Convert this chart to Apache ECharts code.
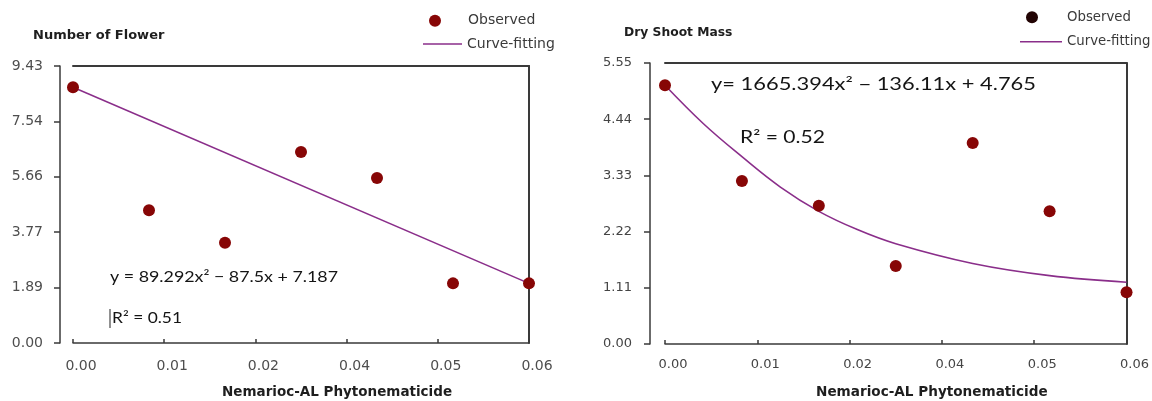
<!DOCTYPE html>
<html><head><meta charset="utf-8">
<script src="https://cdn.jsdelivr.net/npm/echarts@6/dist/echarts.min.js"></script>
<style>html,body{margin:0;padding:0;background:#fff}#c{width:1152px;height:401px}</style>
</head><body><div id="c"></div>
<script>
// ---- data ----
const doses = [0, 0.01, 0.02, 0.03, 0.04, 0.05, 0.06];
const flowerObserved = [8.71, 4.52, 3.41, 6.50, 5.62, 2.03, 2.03];
const flowerFitDoses = [0, 0.06];
const flowerFit = [8.71, 2.03];
const massObserved = [5.11, 3.22, 2.73, 1.54, 3.97, 2.62, 1.02];
const massFitDoses = [0, 0.005, 0.01, 0.015, 0.02, 0.025, 0.03, 0.04, 0.05, 0.06];
const massFit = [5.11, 4.35, 3.70, 3.10, 2.62, 2.26, 1.98, 1.59, 1.35, 1.22];
const xTickLabels = ['0.00', '0.01', '0.02', '0.04', '0.05', '0.06'];
const flowerYTickLabels = ['0.00', '1.89', '3.77', '5.66', '7.54', '9.43'];
const massYTickLabels = ['0.00', '1.11', '2.22', '3.33', '4.44', '5.55'];
const xMax = 0.06, xStep = 0.012;
const flowerYMax = 9.43, flowerYStep = 1.886;
const massYMax = 5.55, massYStep = 1.11;

// ---- helpers ----
const mctx = document.createElement('canvas').getContext('2d');
function fitScale(text, size, w) { mctx.font = size + 'px Lato'; return w / mctx.measureText(text).width; }
const pick = (arr) => (v, i) => (arr[i] !== undefined ? arr[i] : v.toFixed(2));
const AX = '#3a3a3a';

function xAxisBottom(gi, fs, margin, color) {
  return {
    gridIndex: gi, type: 'value', min: 0, max: xMax, interval: xStep,
    axisLine: { show: true, onZero: false, lineStyle: { color: AX, width: 1.5 } },
    axisTick: { show: true, inside: true, length: 4, lineStyle: { color: AX, width: 1.5 } },
    axisLabel: { margin: margin, fontFamily: 'DejaVu Sans', fontSize: fs, color: color, lineHeight: 14,
                 padding: [0, 0, 0, 16], formatter: pick(xTickLabels) },
    splitLine: { show: false }
  };
}
function xAxisTop(gi) {
  return { gridIndex: gi, type: 'value', min: 0, max: xMax, position: 'top',
    axisLine: { show: true, onZero: false, lineStyle: { color: AX, width: 2 } },
    axisTick: { show: false }, axisLabel: { show: false }, splitLine: { show: false } };
}
function yAxisLeft(gi, max, step, labels, offset, fs, margin, color) {
  return {
    gridIndex: gi, type: 'value', min: 0, max: max, interval: step, offset: offset,
    axisLine: { show: true, onZero: false, lineStyle: { color: AX, width: 1.5 } },
    axisTick: { show: true, length: 6, lineStyle: { color: AX, width: 1.5 } },
    axisLabel: { margin: margin, fontFamily: 'DejaVu Sans', fontSize: fs, color: color,
                 padding: [4, 0, 0, 0], formatter: pick(labels) },
    splitLine: { show: false }
  };
}
function yAxisRight(gi, max) {
  return { gridIndex: gi, type: 'value', min: 0, max: max, position: 'right',
    axisLine: { show: true, onZero: false, lineStyle: { color: AX, width: 2 } },
    axisTick: { show: false }, axisLabel: { show: false }, splitLine: { show: false } };
}
const titleFont = (fs) => ({ fontFamily: 'DejaVu Sans', fontWeight: 'bold', fontSize: fs, color: '#1e1e1e', lineHeight: 16 });
const PURPLE = '#8a2e8a';
const MARK = '#870606';

const eqL = 'y = 89.292x\u00B2 \u2212 87.5x + 7.187';
const r2L = 'R\u00B2 = 0.51';
const eqR = 'y= 1665.394x\u00B2 \u2212 136.11x + 4.765';
const r2R = 'R\u00B2 = 0.52';

const option = {
  backgroundColor: '#ffffff',
  animation: false,
  grid: [
    { left: 73, right: 623, top: 66, bottom: 58 },
    { left: 665, right: 24, top: 63, bottom: 57 }
  ],
  xAxis: [
    xAxisBottom(0, 14, 16, '#4e4e4e'),
    xAxisBottom(1, 13, 14, '#444'),
    xAxisTop(0), xAxisTop(1)
  ],
  yAxis: [
    yAxisLeft(0, flowerYMax, flowerYStep, flowerYTickLabels, 13, 14, 17, '#4e4e4e'),
    yAxisLeft(1, massYMax, massYStep, massYTickLabels, 15, 13, 18, '#444'),
    yAxisRight(0, flowerYMax), yAxisRight(1, massYMax)
  ],
  title: [
    { text: 'Number of Flower', left: 33, top: 28, padding: 0, textStyle: titleFont(13) },
    { text: 'Dry Shoot Mass', left: 624, top: 25, padding: 0, textStyle: titleFont(12.3) },
    { text: 'Nemarioc-AL Phytonematicide', left: 222, top: 384, padding: 0, textStyle: titleFont(13.5) },
    { text: 'Nemarioc-AL Phytonematicide', left: 816, top: 384, padding: 0, textStyle: titleFont(13.6) }
  ],
  legend: [
    { data: ['Observed'], left: 429, top: 12.7, padding: 0, icon: 'circle', itemWidth: 12, itemHeight: 12, selectedMode: false,
      itemStyle: { color: MARK, opacity: 1 },
      textStyle: { fontFamily: 'DejaVu Sans', fontSize: 14, color: '#3a3a3a', lineHeight: 16, padding: [0, 0, 0, 22] } },
    { data: ['Curve-fitting'], left: 423, top: 36, padding: 0, icon: 'rect', itemWidth: 39, itemHeight: 1.6, selectedMode: false,
      textStyle: { fontFamily: 'DejaVu Sans', fontSize: 14, color: '#3a3a3a', lineHeight: 16 } },
    { data: ['Observed'], left: 1026, top: 9.3, padding: 0, icon: 'circle', itemWidth: 12, itemHeight: 12, selectedMode: false,
      itemStyle: { color: '#220404', opacity: 1 },
      textStyle: { fontFamily: 'DejaVu Sans', fontSize: 13.3, color: '#3a3a3a', lineHeight: 16, padding: [0, 0, 0, 24] } },
    { data: ['Curve-fitting'], left: 1020, top: 33.7, padding: 0, icon: 'rect', itemWidth: 42, itemHeight: 1.6, selectedMode: false,
      textStyle: { fontFamily: 'DejaVu Sans', fontSize: 13.3, color: '#3a3a3a', lineHeight: 16 } }
  ],
  series: [
    { name: 'Curve-fitting', type: 'line', xAxisIndex: 0, yAxisIndex: 0, clip: false, symbol: 'none', z: 2,
      data: flowerFitDoses.map((d, i) => [d, flowerFit[i]]),
      itemStyle: { color: PURPLE }, lineStyle: { color: PURPLE, width: 1.6 } },
    { name: 'Observed', type: 'scatter', xAxisIndex: 0, yAxisIndex: 0, clip: false, symbolSize: 12, z: 3,
      data: doses.map((d, i) => [d, flowerObserved[i]]),
      itemStyle: { color: MARK, opacity: 1 } },
    { name: 'Curve-fitting', type: 'line', xAxisIndex: 1, yAxisIndex: 1, clip: false, symbol: 'none', smooth: 0.4, z: 2,
      data: massFitDoses.map((d, i) => [d, massFit[i]]),
      itemStyle: { color: PURPLE }, lineStyle: { color: PURPLE, width: 1.6 } },
    { name: 'Observed', type: 'scatter', xAxisIndex: 1, yAxisIndex: 1, clip: false, symbolSize: 12, z: 3,
      data: doses.map((d, i) => [d, massObserved[i]]),
      itemStyle: { color: MARK, opacity: 1 } }
  ],
  graphic: [
    { type: 'text', x: 110, y: 276.7, silent: true, scaleX: fitScale(eqL, 15.5, 228),
      style: { text: eqL, fontFamily: 'Lato', fontSize: 15.5, fill: '#141414', verticalAlign: 'middle', align: 'left' } },
    { type: 'line', silent: true, shape: { x1: 110, y1: 309, x2: 110, y2: 328 }, style: { stroke: '#222', lineWidth: 1 } },
    { type: 'text', x: 112, y: 318, silent: true, scaleX: fitScale(r2L, 15.5, 70),
      style: { text: r2L, fontFamily: 'Lato', fontSize: 15.5, fill: '#141414', verticalAlign: 'middle', align: 'left' } },
    { type: 'text', x: 711, y: 85, silent: true, scaleX: fitScale(eqR, 17, 325),
      style: { text: eqR, fontFamily: 'Lato', fontSize: 17, fill: '#141414', verticalAlign: 'middle', align: 'left' } },
    { type: 'text', x: 740, y: 137.5, silent: true, scaleX: fitScale(r2R, 17, 85),
      style: { text: r2R, fontFamily: 'Lato', fontSize: 17, fill: '#141414', verticalAlign: 'middle', align: 'left' } }
  ]
};
const chart = echarts.init(document.getElementById('c'), null, { renderer: 'canvas' });
chart.setOption(option);
</script></body></html>
